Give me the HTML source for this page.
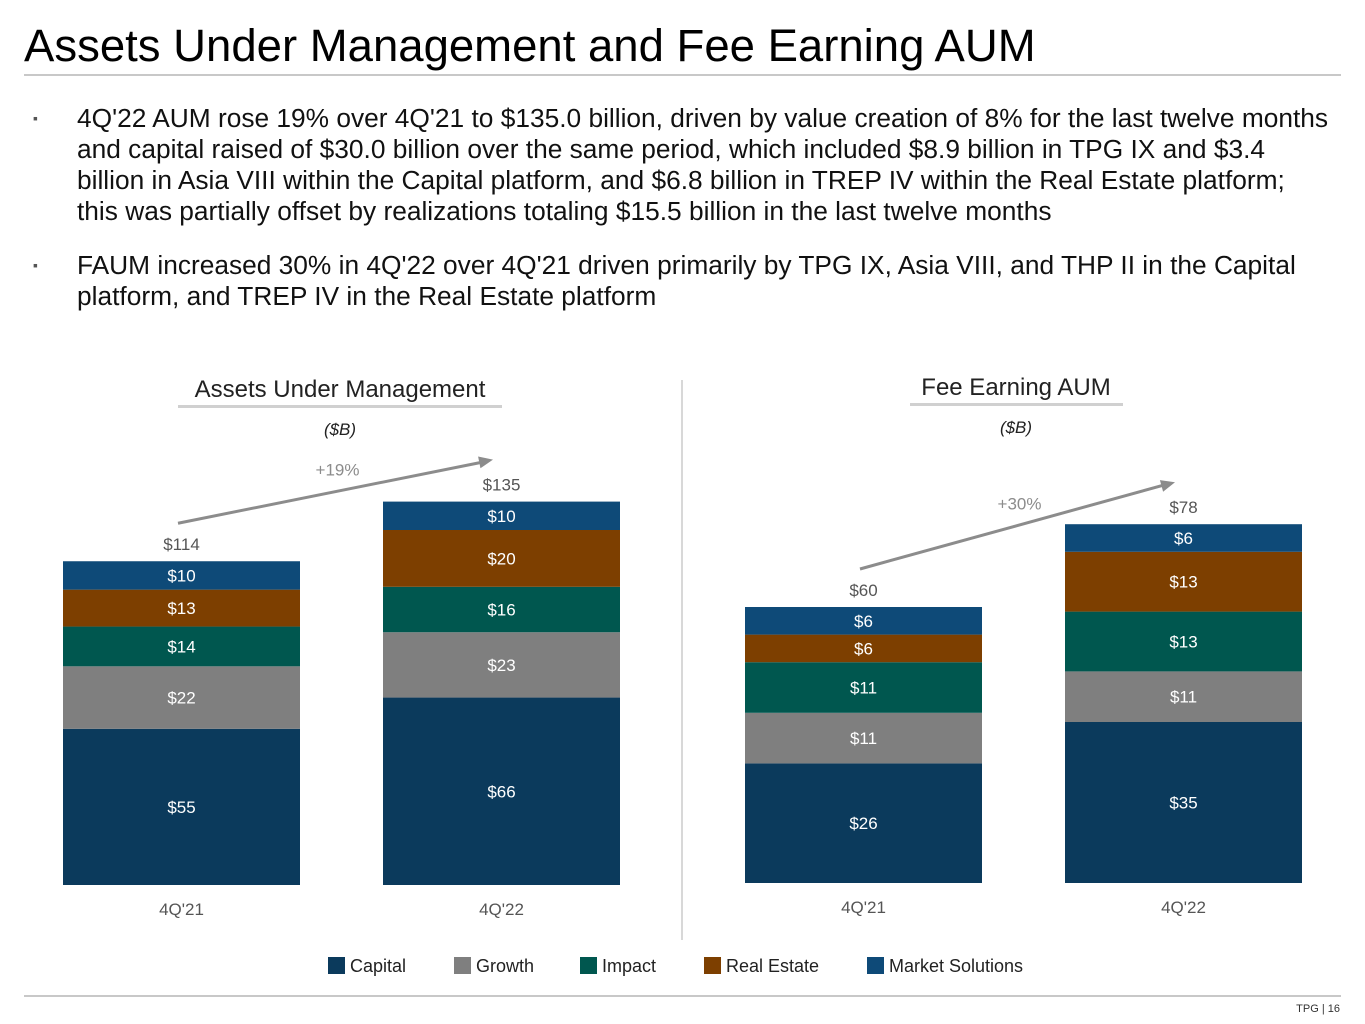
<!DOCTYPE html>
<html><head><meta charset="utf-8"><style>
body{margin:0;width:1365px;height:1024px;background:#fff;font-family:"Liberation Sans",Arial,sans-serif;position:relative;overflow:hidden}
.abs{position:absolute}
#title{left:24px;top:20px;font-size:45.5px;color:#000;white-space:nowrap}
#rule{left:24px;top:74px;width:1317px;height:2px;background:#c8c8c8}
.bul{left:33px;font-size:14px;color:#555}
.txt{left:77px;font-size:26.3px;line-height:31px;color:#111;white-space:nowrap}
#foot{left:24px;top:995px;width:1317px;height:2px;background:#c8c8c8}
#pg{right:25px;top:1003px;font-size:11px;color:#333}
</style></head><body>
<div class="abs" id="title">Assets Under Management and Fee Earning AUM</div>
<div class="abs" id="rule"></div>
<div class="abs bul" style="top:110px">▪</div>
<div class="abs txt" style="top:103px">4Q'22 AUM rose 19% over 4Q'21 to $135.0 billion, driven by value creation of 8% for the last twelve months<br>and capital raised of $30.0 billion over the same period, which included $8.9 billion in TPG IX and $3.4<br>billion in Asia VIII within the Capital platform, and $6.8 billion in TREP IV within the Real Estate platform;<br>this was partially offset by realizations totaling $15.5 billion in the last twelve months</div>
<div class="abs bul" style="top:257px">▪</div>
<div class="abs txt" style="top:250px">FAUM increased 30% in 4Q'22 over 4Q'21 driven primarily by TPG IX, Asia VIII, and THP II in the Capital<br>platform, and TREP IV in the Real Estate platform</div>
<svg class="abs" style="left:0;top:0" width="1365" height="1024" id="chart"></svg>
<div class="abs" id="foot"></div>
<div class="abs" id="pg">TPG | 16</div>
<script>
const categories=["4Q'21","4Q'22"];
const series=["Capital","Growth","Impact","Real Estate","Market Solutions"];
const colors=["#0b3a5c","#7f7f7f","#00574f","#7d3f00","#0e4a78"];
const aumCapital=[55,66], aumGrowth=[22,23], aumImpact=[14,16], aumRealEstate=[13,20], aumMarket=[10,10];
const aumTotals=[114,135];
const faumCapital=[26,35], faumGrowth=[11,11], faumImpact=[11,13], faumRealEstate=[6,13], faumMarket=[6,6];
const faumTotals=[60,78];
const growthLabels=["+19%","+30%"];
const NS="http://www.w3.org/2000/svg";
const svg=document.getElementById('chart');
function mk(t,a,txt){const e=document.createElementNS(NS,t);for(const k in a)e.setAttribute(k,a[k]);if(txt!==undefined)e.textContent=txt;svg.appendChild(e);return e;}
function panel(cfg){
  const y=v=>cfg.base-v*cfg.scale;
  const h=v=>v*cfg.scale;
  const stacks=[cfg.cap,cfg.gro,cfg.imp,cfg.re,cfg.ms];
  let tops=[];
  categories.forEach((c,i)=>{
    const x=cfg.xs[i];let cum=0;
    stacks.forEach((s,j)=>{
      const r=mk('rect',{x:x,y:y(cum+s[i]),width:237,height:h(s[i]),fill:colors[j]});
      
      
      const t=mk('text',{x:x+118.5,y:y(cum+s[i]/2)+6,'text-anchor':'middle','font-size':17,fill:'#fff'},'$'+s[i]);
      
      
      cum+=s[i];
    });
    const top=y(cfg.totals[i]);tops.push(top);
    const tl=mk('text',{x:x+118.5,y:top-11,'text-anchor':'middle','font-size':17,fill:'#555'},'$'+cfg.totals[i]);
    
    
    const cl=mk('text',{x:x+118.5,y:cfg.base+30,'text-anchor':'middle','font-size':17,fill:'#555'},c);
    
    
  });
  const x1=cfg.xs[0]+115,y1=tops[0]-38,x2=cfg.xs[1]+110,y2=tops[1]-42;
  const ln=mk('line',{x1:x1,y1:y1,x2:x2-8,y2:y2+2,stroke:'#8c8c8c','stroke-width':3});
  
  
  const ang=Math.atan2(y2-y1,x2-x1);
  const p=(d,o)=>[x2-d*Math.cos(ang)+o*Math.sin(ang),y2-d*Math.sin(ang)-o*Math.cos(ang)];
  const a=p(14,6),b=p(14,-6);
  const hd=mk('polygon',{points:`${x2},${y2} ${a[0]},${a[1]} ${b[0]},${b[1]}`,fill:'#8c8c8c'});
  
  
  const gl=mk('text',{x:(x1+x2)/2+2,y:(y1+y2)/2-16,'text-anchor':'middle','font-size':17,fill:'#8c8c8c'},cfg.growth);
  
  
  const tt=mk('text',{x:cfg.cx,y:cfg.ty,'text-anchor':'middle','font-size':24,fill:'#222'},cfg.title);
  
  
  const ul=mk('rect',{x:cfg.ux,y:cfg.ty+8,width:cfg.uw,height:3,fill:'#d0d0d0'});
  
  
  const un=mk('text',{x:cfg.cx,y:cfg.ty+38,'text-anchor':'middle','font-size':17,'font-style':'italic',fill:'#222'},'($B)');
  
  
}
panel({id:'aum',base:885,scale:2.84,xs:[63,383],cap:aumCapital,gro:aumGrowth,imp:aumImpact,re:aumRealEstate,ms:aumMarket,totals:aumTotals,growth:growthLabels[0],title:'Assets Under Management',cx:340,ty:397,ux:178,uw:324});
panel({id:'faum',base:883,scale:4.6,xs:[745,1065],cap:faumCapital,gro:faumGrowth,imp:faumImpact,re:faumRealEstate,ms:faumMarket,totals:faumTotals,growth:growthLabels[1],title:'Fee Earning AUM',cx:1016,ty:395,ux:910,uw:213});
const dv=mk('line',{x1:682,y1:380,x2:682,y2:940,stroke:'#d8d8d8','stroke-width':2});


const lx=[328,454,580,704,867];
series.forEach((s,j)=>{
  const r=mk('rect',{x:lx[j],y:957,width:17,height:17,fill:colors[j]});
  
  
  const t=mk('text',{x:lx[j]+22,y:972,'font-size':18,fill:'#222'},s);
  
  
});
</script>
</body></html>
